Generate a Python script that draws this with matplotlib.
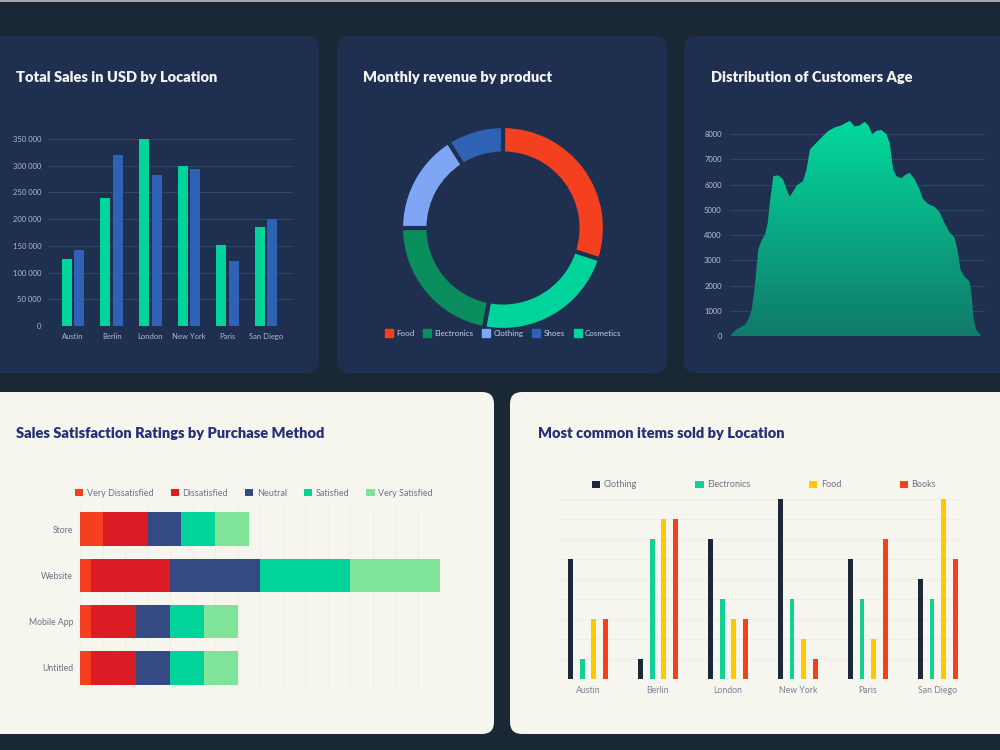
import numpy as np
import matplotlib.pyplot as plt
from matplotlib.patches import FancyBboxPatch, Rectangle, Patch
from matplotlib.colors import LinearSegmentedColormap

W, H = 1000, 750

# ---- data ----
locations = ['Austin', 'Berlin', 'London', 'New York', 'Paris', 'San Diego']
sales_green = [125000, 240000, 350000, 299000, 152000, 185000]
sales_blue = [142000, 320000, 282000, 293000, 122000, 200000]

products = ['Food', 'Electronics', 'Clothing', 'Shoes', 'Cosmetics']
revenue = [30, 22, 16, 9, 23]
ring_order = ['Food', 'Cosmetics', 'Electronics', 'Clothing', 'Shoes']

ages = [18.0, 19.4, 20.9, 22.3, 23.2, 24.2, 25.1, 26.1, 26.9, 28.0, 28.8, 29.4,
        30.4, 31.8, 33.2, 34.2, 35.1, 36.1, 37.1, 38.9, 39.9, 40.9, 42.3, 44.2,
        46.1, 48.0, 49.9, 50.9, 52.3, 53.7, 55.1, 56.6, 57.7, 58.7, 59.9, 61.3,
        62.8, 63.7, 64.7, 65.6, 67.1, 68.0, 69.4, 70.9, 72.3, 73.2, 74.7, 76.6,
        78.0, 79.4, 80.9, 82.3, 83.1, 84.0, 85.1, 86.6, 87.2, 87.8, 88.5, 90.0]
customers = [0, 210, 345, 440, 640, 1030, 1960, 3420, 3750, 4020, 4480, 5280,
             6340, 6370, 6210, 5810, 5520, 5740, 5970, 6140, 6600, 7400, 7600, 7870,
             8130, 8270, 8350, 8430, 8530, 8300, 8350, 8490, 8330, 8000, 8130, 8170,
             8000, 7670, 6600, 6340, 6250, 6370, 6470, 6210, 5810, 5440, 5240, 5120,
             4910, 4480, 4110, 3890, 3420, 2630, 2360, 2160, 1560, 640, 240, 0]

methods = ['Store', 'Website', 'Mobile App', 'Untitled']
ratings = ['Very Dissatisfied', 'Dissatisfied', 'Neutral', 'Satisfied', 'Very Satisfied']
very_dissatisfied = [10, 5, 5, 5]
dissatisfied = [20, 35, 20, 20]
neutral = [15, 40, 15, 15]
satisfied = [15, 40, 15, 15]
very_satisfied = [15, 40, 15, 15]

items = ['Clothing', 'Electronics', 'Food', 'Books']
clothing = [6, 1, 7, 9, 6, 5]
electronics = [1, 7, 4, 4, 4, 4]
food = [3, 8, 3, 2, 2, 9]
books = [3, 8, 3, 1, 7, 6]

# ---- colours ----
BG = '#1a2836'
NAVY = '#1f2f50'
CREAM = '#f7f6ee'
GREEN = '#00d49a'
BLUE = '#2f62b5'
product_colors = {'Food': '#f5401f', 'Electronics': '#0b8e5e', 'Clothing': '#7fa6f5',
                  'Shoes': '#2f62b5', 'Cosmetics': '#00d49a'}
rating_colors = ['#f5401f', '#dc1c24', '#354a82', '#00d49a', '#7fe39a']
item_colors = ['#1b2838', '#12d196', '#ffc800', '#f5401f']

plt.rcParams['font.family'] = ['Lato', 'DejaVu Sans']

fig = plt.figure(figsize=(W / 100, H / 100), dpi=100, facecolor=BG)


def panel(l, t, r, b, color):
    p = FancyBboxPatch((l / 100, (H - b) / 100), (r - l) / 100, (b - t) / 100,
                       boxstyle='round,pad=0,rounding_size=0.12',
                       transform=fig.dpi_scale_trans, facecolor=color,
                       edgecolor='none', zorder=-1)
    fig.add_artist(p)


def px_axes(l, t, r, b):
    ax = fig.add_axes([l / W, 1 - b / H, (r - l) / W, (b - t) / H])
    ax.set_facecolor('none')
    for s in ax.spines.values():
        s.set_visible(False)
    ax.tick_params(length=0)
    return ax


def title(x, y, s, color):
    fig.text(x / W, 1 - y / H, s, color=color, fontsize=10.5, fontweight='heavy',
             ha='left', va='center')


fig.add_artist(Rectangle((0, (H - 2) / 100), W / 100, 0.02, transform=fig.dpi_scale_trans,
                         facecolor='#a5a9ad', edgecolor='none'))

panel(-20, 36, 319, 373, NAVY)
panel(337, 36, 667, 373, NAVY)
panel(684, 36, 1020, 373, NAVY)
panel(-20, 392, 494, 734, CREAM)
panel(510, 392, 1020, 734, CREAM)

# ---- panel 1: grouped bars ----
title(16, 77, 'Total Sales in USD by Location', '#f2f2f2')
ax1 = px_axes(48, 139, 293, 326)
x = np.arange(len(locations))
ax1.bar(x - 0.163, sales_green, width=0.26, color=GREEN, zorder=3)
ax1.bar(x + 0.163, sales_blue, width=0.26, color=BLUE, zorder=3)
ax1.set_xlim(-0.65, 5.7)
ax1.set_ylim(0, 350000)
ax1.set_yticks(np.arange(0, 350001, 50000))
ax1.set_yticklabels([f'{int(v):,}'.replace(',', ' ') for v in np.arange(0, 350001, 50000)])
ax1.set_xticks(x)
ax1.set_xticklabels(locations)
ax1.tick_params(labelsize=5.5, labelcolor='#aeb8d0', pad=5)
ax1.grid(axis='y', color='#2b4a5e', linewidth=0.8, zorder=0)
ax1.set_axisbelow(True)

# ---- panel 2: donut ----
title(363, 77, 'Monthly revenue by product', '#f2f2f2')
ax2 = px_axes(401, 126, 605, 330)
ring_vals = [revenue[products.index(p)] for p in ring_order]
ax2.pie(ring_vals, colors=[product_colors[p] for p in ring_order], startangle=90,
        counterclock=False, radius=1.0,
        wedgeprops=dict(width=0.27, edgecolor=NAVY, linewidth=3))
ax2.set_xlim(-1, 1)
ax2.set_ylim(-1, 1)
ax2.legend(handles=[Patch(color=product_colors[p], label=p) for p in products],
           loc='center', bbox_to_anchor=(503 / W, 1 - 333 / H), bbox_transform=fig.transFigure,
           ncol=5, frameon=False, fontsize=5.8, handlelength=1.0, handleheight=1.0,
           handletextpad=0.4, columnspacing=1.1, labelcolor='#c8d0e6')

# ---- panel 3: area with gradient ----
title(711, 77, 'Distribution of Customers Age', '#f2f2f2')
ax3 = px_axes(730, 109, 985, 336)
poly = ax3.fill_between(ages, customers, color='none', linewidth=0)
grad = np.linspace(0, 1, 256).reshape(-1, 1)
cmap = LinearSegmentedColormap.from_list('agegrad', ['#107a69', '#03da9d'])
img = ax3.imshow(grad, cmap=cmap, extent=[18, 91, 0, max(customers)], origin='lower',
                 aspect='auto', zorder=3)
img.set_clip_path(poly.get_paths()[0], transform=ax3.transData)
ax3.set_xlim(18, 91)
ax3.set_ylim(0, 9000)
ax3.set_yticks(np.arange(0, 8001, 1000))
ax3.set_xticks([])
ax3.tick_params(labelsize=5.5, labelcolor='#b4c0e2', pad=6)
ax3.grid(axis='y', color='#2b4660', linewidth=0.8, zorder=0)
ax3.set_axisbelow(True)

# ---- panel 4: stacked horizontal bars ----
title(16, 433, 'Sales Satisfaction Ratings by Purchase Method', '#25307a')
ax4 = px_axes(80, 506, 440, 691)
y = np.arange(len(methods))
left = np.zeros(len(methods))
for name, vals, c in zip(ratings, [very_dissatisfied, dissatisfied, neutral, satisfied,
                                   very_satisfied], rating_colors):
    ax4.barh(y, vals, left=left, height=0.72, color=c, label=name, zorder=3)
    left += np.array(vals)
ax4.set_xlim(0, 160)
ax4.set_ylim(3.5, -0.5)
ax4.set_xticks(np.arange(0, 161, 10))
ax4.set_xticklabels([])
ax4.set_yticks(y)
ax4.set_yticklabels(methods)
ax4.tick_params(labelsize=6.2, labelcolor='#6b6e85', pad=5)
ax4.grid(axis='x', color='#f0efe7', linewidth=0.8, zorder=0)
ax4.set_axisbelow(True)
ax4.legend(loc='center', bbox_to_anchor=(254 / W, 1 - 493 / H), bbox_transform=fig.transFigure,
           ncol=5, frameon=False, fontsize=6.5, handlelength=0.9, handleheight=0.9,
           handletextpad=0.4, columnspacing=1.9, labelcolor='#6e7186')

# ---- panel 5: grouped thin bars ----
title(538, 433, 'Most common items sold by Location', '#25307a')
ax5 = px_axes(560, 499, 963, 679)
xg = np.arange(len(locations))
for i, (name, vals, c) in enumerate(zip(items, [clothing, electronics, food, books], item_colors)):
    ax5.bar(xg + (i - 1.5) * 0.167, vals, width=0.07, color=c, label=name, zorder=3)
ax5.set_xlim(-0.4, 5.36)
ax5.set_ylim(0, 9)
ax5.set_yticks(np.arange(0, 10, 1))
ax5.set_yticklabels([])
ax5.set_xticks(xg)
ax5.set_xticklabels(locations)
ax5.tick_params(labelsize=6.3, labelcolor='#7b7f95', pad=5)
ax5.grid(axis='y', color='#efeee6', linewidth=0.8, zorder=0)
ax5.set_axisbelow(True)
ax5.legend(loc='center', bbox_to_anchor=(764 / W, 1 - 485 / H), bbox_transform=fig.transFigure,
           ncol=4, frameon=False, fontsize=6.5, handlelength=0.9, handleheight=0.9,
           handletextpad=0.4, columnspacing=6.5, labelcolor='#6e7186')

fig.savefig('out.png', dpi=100, facecolor=BG)
